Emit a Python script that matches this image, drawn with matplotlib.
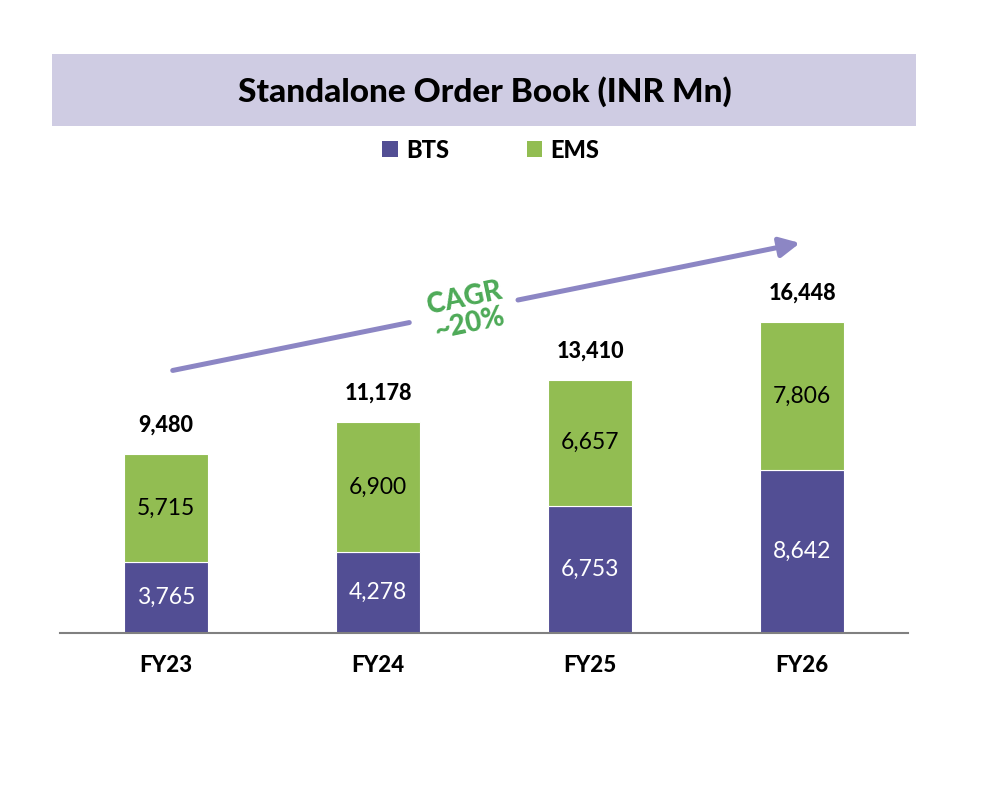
import matplotlib
matplotlib.use("Agg")
import matplotlib.pyplot as plt
from matplotlib.patches import Rectangle, Patch

years = ["FY23", "FY24", "FY25", "FY26"]
bts = [3765, 4278, 6753, 8642]
ems = [5715, 6900, 6657, 7806]
totals = [9480, 11178, 13410, 16448]

c_bts = "#524E94"
c_ems = "#92BD52"
c_arrow = "#8C86C4"
c_cagr = "#4DAA57"

plt.rcParams["font.family"] = ["Lato", "DejaVu Sans"]

fig = plt.figure(figsize=(9.86, 7.9), dpi=100)
ax = fig.add_axes([60 / 986, 157 / 790, 848 / 986, 377.6 / 790])

x = list(range(len(years)))
ax.bar(x, bts, width=0.4, color=c_bts, edgecolor="white", linewidth=0.8)
ax.bar(x, ems, width=0.4, bottom=bts, color=c_ems, edgecolor="white", linewidth=0.8)

for i in x:
    ax.text(i, bts[i] / 2, f"{bts[i]:,}", ha="center", va="center",
            color="white", fontsize=16.5)
    ax.text(i, bts[i] + ems[i] / 2, f"{ems[i]:,}", ha="center", va="center",
            color="black", fontsize=16.5)
    ax.annotate(f"{totals[i]:,}", (i, totals[i]), xytext=(0, 21),
                textcoords="offset points", ha="center", va="center",
                fontsize=15.5, fontweight="black")

ax.set_xlim(-0.5, 3.5)
ax.set_ylim(0, 20000)
for s in ["top", "right", "left"]:
    ax.spines[s].set_visible(False)
ax.spines["bottom"].set_color("#808080")
ax.spines["bottom"].set_linewidth(1.5)
ax.set_yticks([])
ax.set_xticks(x)
ax.set_xticklabels(years, fontsize=16, fontweight="black")
ax.tick_params(axis="x", length=0, pad=16)

# title band
fig.add_artist(Rectangle((52 / 986, 1 - 126 / 790), 864 / 986, 72 / 790,
                         transform=fig.transFigure, facecolor="#CFCCE3",
                         edgecolor="none", zorder=0))
fig.text(485 / 986, 1 - 92 / 790, "Standalone Order Book (INR Mn)",
         ha="center", va="center", fontsize=24, fontweight="black")

# legend
handles = [Patch(facecolor=c_bts, label="BTS"), Patch(facecolor=c_ems, label="EMS")]
fig.legend(handles=handles, loc="center", bbox_to_anchor=(491 / 986, 1 - 150 / 790),
           ncol=2, frameon=False, handlelength=0.65, handleheight=0.65,
           handletextpad=0.35, columnspacing=3.3,
           prop={"size": 17, "weight": "black"})

# CAGR arrow
H = 790
ax.annotate("", xy=(412, H - 322), xytext=(170, H - 371),
            xycoords="figure pixels", textcoords="figure pixels",
            arrowprops=dict(arrowstyle="-", color=c_arrow, lw=3.6))
ax.annotate("", xy=(800, H - 243), xytext=(518, H - 300),
            xycoords="figure pixels", textcoords="figure pixels",
            arrowprops=dict(arrowstyle="-|>,head_length=0.6,head_width=0.3",
                            color=c_arrow, lw=3.6, mutation_scale=20,
                            shrinkA=0, shrinkB=0))
fig.text(467 / 986, 1 - 311 / 790, "CAGR\n~20%", ha="center", va="center",
         rotation=12, color=c_cagr, fontsize=20, fontweight="black",
         linespacing=1.0)

fig.savefig("out.png", dpi=100)
